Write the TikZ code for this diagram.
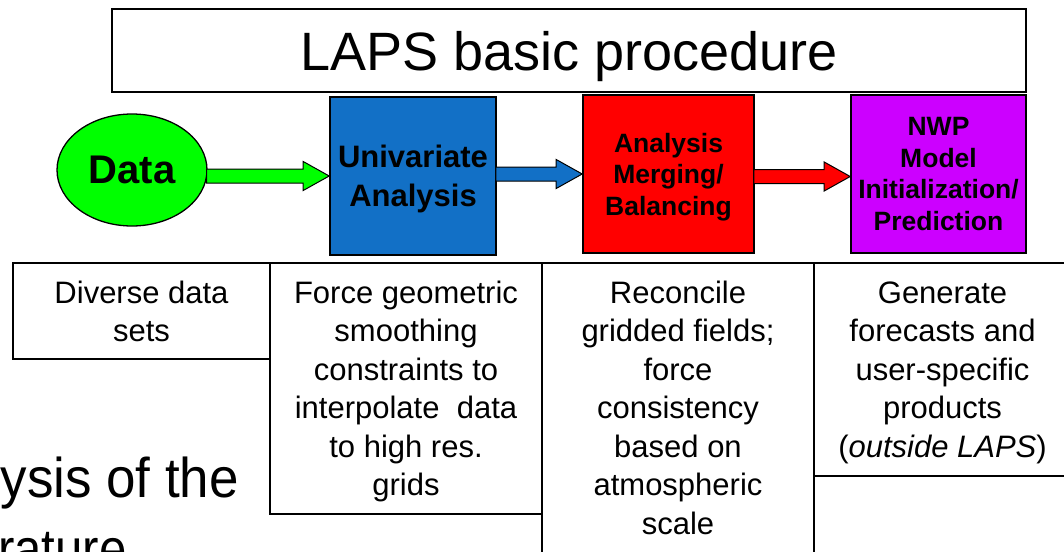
\documentclass[tikz,border=0pt]{standalone}
\usepackage{fontspec}
\setmainfont{Liberation Sans}
\usetikzlibrary{shapes.geometric,calc}
\definecolor{bblue}{RGB}{18,112,198}
\definecolor{ppurple}{RGB}{204,0,255}
\definecolor{ggreen}{RGB}{0,255,0}
\definecolor{rred}{RGB}{255,0,0}
\newcommand\blockarrow[4]{%
  \path[arrowshape, fill=#3] let \p1=(#1.east), \p2=(#2.west) in
    (\x1-1pt,\y2+#4+7pt) -- (\x2-26pt,\y2+#4+7pt) -- (\x2-26pt,\y2+#4+14.5pt) --
    (\x2,\y2+#4) -- (\x2-26pt,\y2+#4-14.5pt) -- (\x2-26pt,\y2+#4-7pt) --
    (\x1-1pt,\y2+#4-7pt) -- cycle;}
\begin{document}
\begin{tikzpicture}[x=1pt,y=-1pt,
  titlebox/.style={draw=black, line width=2pt, rectangle, inner sep=0pt,
    font=\fontsize{54}{60}\selectfont, text depth=0pt},
  procbox/.style={draw=black, line width=1.6pt, rectangle, inner sep=0pt,
    align=center, text depth=0pt, minimum height=158},
  bigbold/.style={font=\fontsize{31}{39}\selectfont\bfseries},
  smallbold/.style={font=\fontsize{26.5}{31.6}\selectfont\bfseries},
  tabbox/.style={draw=black, line width=2pt, rectangle, inner sep=0pt, anchor=north west},
  tabtext/.style={anchor=base, inner sep=0pt, font=\fontsize{31}{38.5}\selectfont},
  arrowshape/.style={draw=black, line width=1pt, line join=miter},
  slidetext/.style={inner sep=0pt, font=\fontsize{56}{64}\selectfont, xscale=0.945},
]
\useasboundingbox (0,0) rectangle (1064,551);
\clip (0,0) rectangle (1064,551);

% title
\node[titlebox, minimum width=914, minimum height=83] (title) at (569,50.5) {LAPS basic procedure};

% process nodes
\node[ellipse, draw=black, line width=1.3pt, fill=ggreen, minimum width=150, minimum height=112,
  inner sep=0pt, font=\fontsize{40}{48}\selectfont\bfseries, text depth=0pt] (data) at (132,170) {Data};
\node[procbox, bigbold, fill=bblue, minimum width=166] (uni) at (413,176) {Univariate\\Analysis};
\node[procbox, smallbold, fill=rred, minimum width=171] (merge) at (668.5,174) {Analysis\\Merging/\\Balancing};
\node[procbox, smallbold, fill=ppurple, minimum width=175] (nwp) at (938.5,174) {NWP\\Model\\Initialization/\\Prediction};

% block arrows
\blockarrow{data}{uni}{ggreen}{0pt}
\blockarrow{uni}{merge}{bblue}{0pt}
\blockarrow{merge}{nwp}{rred}{-2.5pt}

% description table
\node[tabbox, minimum width=257, minimum height=96] (d1) at (12,262) {};
\node[tabbox, minimum width=272, minimum height=251] (d2) at (269,262) {};
\node[tabbox, minimum width=272, minimum height=320] (d3) at (541,262) {};
\node[tabbox, minimum width=257, minimum height=213] (d4) at (813,262) {};

\node[tabtext] (t1) at ($(d1.north)+(0,41)$) {\parbox[t]{250pt}{\centering Diverse data\\sets}};
\node[tabtext] (t2) at ($(d2.north)+(0,41)$) {\parbox[t]{265pt}{\centering Force geometric\\smoothing\\constraints to\\interpolate\ \ data\\to high res.\\grids}};
\node[tabtext] (t3) at ($(d3.north)+(0,41)$) {\parbox[t]{265pt}{\centering Reconcile\\gridded fields;\\force\\consistency\\based on\\atmospheric\\scale}};
\node[tabtext] (t4) at ($(d4.north)+(0,41)$) {\parbox[t]{255pt}{\centering Generate\\forecasts and\\user-specific\\products\\(\textit{outside LAPS})}};

% fragments of slide text behind
\node[slidetext, anchor=base east] (frag1) at (239,497) {ysis of the};
\node[slidetext, anchor=base west, xscale=0.93] (frag2) at (-2,568) {rature};
\end{tikzpicture}
\end{document}
